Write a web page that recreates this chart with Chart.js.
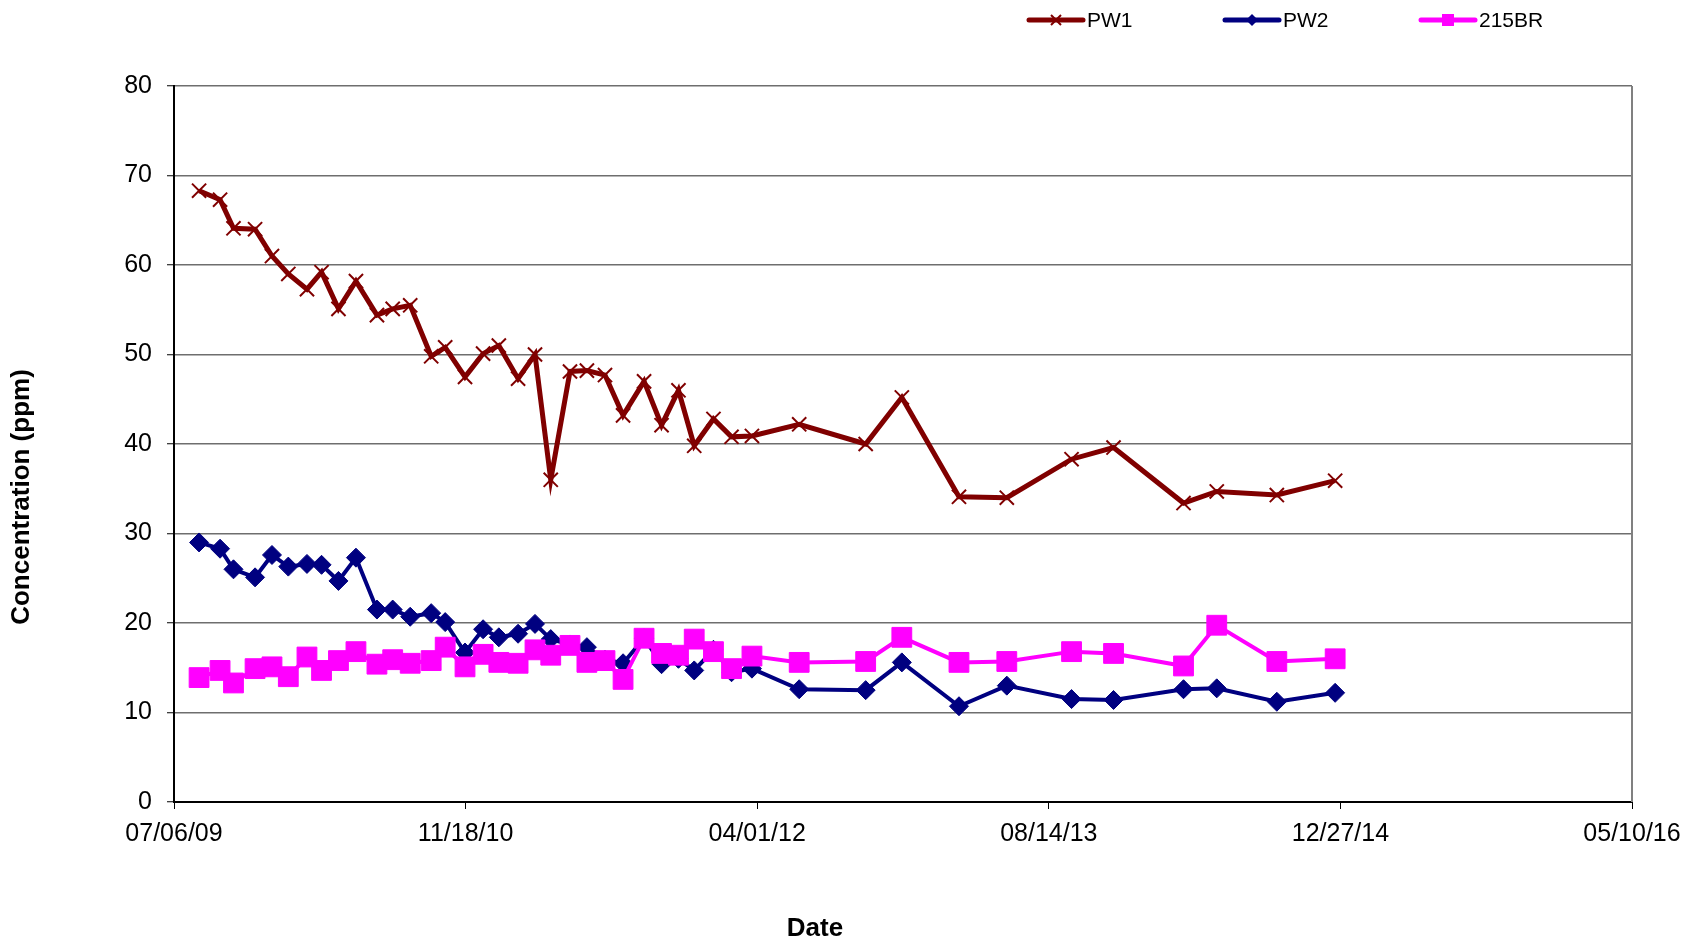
<!DOCTYPE html>
<html>
<head>
<meta charset="utf-8">
<script src="https://cdn.jsdelivr.net/npm/chart.js@4.4.1/dist/chart.umd.min.js"></script>
<style>
  html, body { margin: 0; padding: 0; background: #ffffff; }
  #wrap { width: 1687px; height: 940px; }
</style>
</head>
<body>
<div id="wrap"><canvas id="c" width="1687" height="940"></canvas></div>
<script>
// ---- data ----
const startDate = '2009-07-06';
const sampleDates = [
  '2009-08-18','2009-09-23','2009-10-16','2009-11-22','2009-12-21',
  '2010-01-18','2010-02-19','2010-03-16','2010-04-14','2010-05-14',
  '2010-06-19','2010-07-16','2010-08-15','2010-09-20','2010-10-14',
  '2010-11-17','2010-12-18','2011-01-14','2011-02-16','2011-03-17',
  '2011-04-13','2011-05-16','2011-06-14','2011-07-15','2011-08-15',
  '2011-09-20','2011-10-20','2011-11-18','2011-12-15','2012-01-17',
  '2012-02-17','2012-03-23','2012-06-12','2012-10-04','2012-12-05',
  '2013-03-13','2013-06-03','2013-09-22','2013-12-03','2014-04-02',
  '2014-05-29','2014-09-09','2014-12-18'
];
const pw1 = [68.3, 67.3, 64.1, 64.0, 61.0, 59.0, 57.3, 59.2, 55.1, 58.2,
             54.4, 55.1, 55.5, 49.8, 50.8, 47.5, 50.1, 51.0, 47.3, 50.0,
             36.0, 48.1, 48.2, 47.7, 43.2, 47.0, 42.1, 46.0, 39.8, 42.8,
             40.8, 40.9, 42.2, 40.0, 45.2, 34.1, 34.0, 38.3, 39.6, 33.4,
             34.7, 34.3, 35.9];
const pw2 = [29.0, 28.3, 26.0, 25.1, 27.6, 26.3, 26.6, 26.5, 24.7, 27.3,
             21.5, 21.5, 20.7, 21.1, 20.1, 16.7, 19.3, 18.4, 18.8, 19.9,
             18.2, 17.6, 17.3, 15.9, 15.5, 18.3, 15.4, 16.0, 14.7, 17.0,
             14.5, 14.9, 12.6, 12.5, 15.6, 10.7, 13.0, 11.5, 11.4, 12.6,
             12.7, 11.2, 12.2];
const br215 = [13.9, 14.7, 13.3, 14.9, 15.1, 14.0, 16.2, 14.7, 15.8, 16.8,
               15.4, 15.9, 15.5, 15.8, 17.3, 15.1, 16.5, 15.6, 15.5, 17.0,
               16.4, 17.5, 15.6, 15.8, 13.7, 18.3, 16.6, 16.4, 18.2, 16.8,
               14.9, 16.3, 15.6, 15.7, 18.4, 15.6, 15.7, 16.8, 16.6, 15.2,
               19.75, 15.7, 16.0];
const seriesNames = ['PW1', 'PW2', '215BR'];
const xTickLabels = ['07/06/09', '11/18/10', '04/01/12', '08/14/13', '12/27/14', '05/10/16'];
const yTicks = [0, 10, 20, 30, 40, 50, 60, 70, 80];
const xTitle = 'Date';
const yTitle = 'Concentration (ppm)';

// ---- helpers ----
function dayOffset(s) {
  const a = s.split('-').map(Number), b = startDate.split('-').map(Number);
  return (Date.UTC(a[0], a[1] - 1, a[2]) - Date.UTC(b[0], b[1] - 1, b[2])) / 86400000;
}
const xs = sampleDates.map(dayOffset);
const toPts = vals => vals.map((v, i) => ({ x: xs[i], y: v }));

const FONT = '"Liberation Sans", Arial, sans-serif';
const colors = ['#800000', '#000080', '#FF00FF'];
const styles = ['crossRot', 'rectRot', 'rect'];

const frame = {
  id: 'frame',
  beforeDatasetsDraw(chart) {
    const { ctx, chartArea: a } = chart;
    ctx.save();
    ctx.strokeStyle = '#808080';
    ctx.lineWidth = 2;
    ctx.beginPath();
    ctx.moveTo(a.right, a.top);
    ctx.lineTo(a.right, a.bottom);
    ctx.stroke();
    ctx.restore();
  }
};

const titles = {
  id: 'axisTitles',
  afterDraw(chart) {
    const { ctx } = chart;
    ctx.save();
    ctx.fillStyle = '#000000';
    ctx.font = 'bold 26px ' + FONT;
    ctx.textAlign = 'center';
    ctx.textBaseline = 'middle';
    ctx.fillText(xTitle, 815, 929);
    ctx.translate(22, 497);
    ctx.rotate(-Math.PI / 2);
    ctx.fillText(yTitle, 0, 0);
    ctx.restore();
  }
};

const legend = {
  id: 'customLegend',
  afterDraw(chart) {
    const { ctx } = chart;
    const starts = [1029, 1225, 1421];
    const y = 20, len = 54;
    ctx.save();
    chart.data.datasets.forEach((ds, i) => {
      const x0 = starts[i];
      ctx.strokeStyle = ds.borderColor;
      ctx.lineWidth = 5;
      ctx.lineCap = 'round';
      ctx.beginPath();
      ctx.moveTo(x0, y);
      ctx.lineTo(x0 + len, y);
      ctx.stroke();
      const cx = x0 + len / 2;
      ctx.fillStyle = ds.borderColor;
      ctx.strokeStyle = ds.borderColor;
      ctx.lineCap = 'butt';
      if (ds.pointStyle === 'crossRot') {
        ctx.lineWidth = 2;
        ctx.beginPath();
        ctx.moveTo(cx - 5, y - 5); ctx.lineTo(cx + 5, y + 5);
        ctx.moveTo(cx + 5, y - 5); ctx.lineTo(cx - 5, y + 5);
        ctx.stroke();
      } else if (ds.pointStyle === 'rectRot') {
        ctx.beginPath();
        ctx.moveTo(cx, y - 6); ctx.lineTo(cx + 6, y); ctx.lineTo(cx, y + 6); ctx.lineTo(cx - 6, y);
        ctx.closePath(); ctx.fill();
      } else {
        ctx.fillRect(cx - 6, y - 6, 12, 12);
      }
      ctx.fillStyle = '#000000';
      ctx.font = '21px ' + FONT;
      ctx.textAlign = 'left';
      ctx.textBaseline = 'middle';
      ctx.fillText(ds.label, x0 + len + 4, y + 1);
    });
    ctx.restore();
  }
};

const series = [pw1, pw2, br215];
const radii = [10, 9.5, 14];
const widths = [5, 4, 4];
const orders = [0, 2, 1];

new Chart(document.getElementById('c'), {
  type: 'line',
  data: {
    datasets: series.map((vals, i) => ({
      label: seriesNames[i],
      data: toPts(vals),
      borderColor: colors[i],
      backgroundColor: colors[i],
      pointBackgroundColor: colors[i],
      pointBorderColor: colors[i],
      pointStyle: styles[i],
      pointRadius: radii[i],
      pointBorderWidth: i === 0 ? 2 : 1,
      borderWidth: widths[i],
      tension: 0,
      order: orders[i]
    }))
  },
  options: {
    responsive: false,
    animation: false,
    devicePixelRatio: 1,
    layout: { padding: { top: 86, right: 55, left: 0, bottom: 0 } },
    plugins: { legend: { display: false }, tooltip: { enabled: false } },
    scales: {
      x: {
        type: 'linear',
        min: 0, max: 2500,
        afterFit(s) { s.height = 138; s.paddingRight = 0; s.paddingLeft = 0; },
        afterBuildTicks(s) { s.ticks = xTickLabels.map((t, i) => ({ value: i * 500 })); },
        ticks: {
          callback: (v, i) => xTickLabels[i],
          font: { family: FONT, size: 25 },
          color: '#000000',
          padding: 10,
          maxRotation: 0,
          autoSkip: false
        },
        grid: { drawOnChartArea: false, drawTicks: true, tickLength: 7, tickColor: '#000000', tickWidth: 1 },
        border: { display: true, color: '#000000', width: 2 },
        title: { display: false }
      },
      y: {
        type: 'linear',
        min: 0, max: 80,
        afterFit(s) { s.width = 174; s.paddingTop = 0; s.paddingBottom = 0; },
        afterBuildTicks(s) { s.ticks = yTicks.map(v => ({ value: v })); },
        ticks: {
          font: { family: FONT, size: 25 },
          color: '#000000',
          padding: 15
        },
        grid: { color: '#6e6e6e', lineWidth: 1.5, drawTicks: true, tickLength: 7, tickColor: '#000000', tickWidth: 1 },
        border: { display: true, color: '#000000', width: 2 },
        title: { display: false }
      }
    }
  },
  plugins: [frame, titles, legend]
});
</script>
</body>
</html>
